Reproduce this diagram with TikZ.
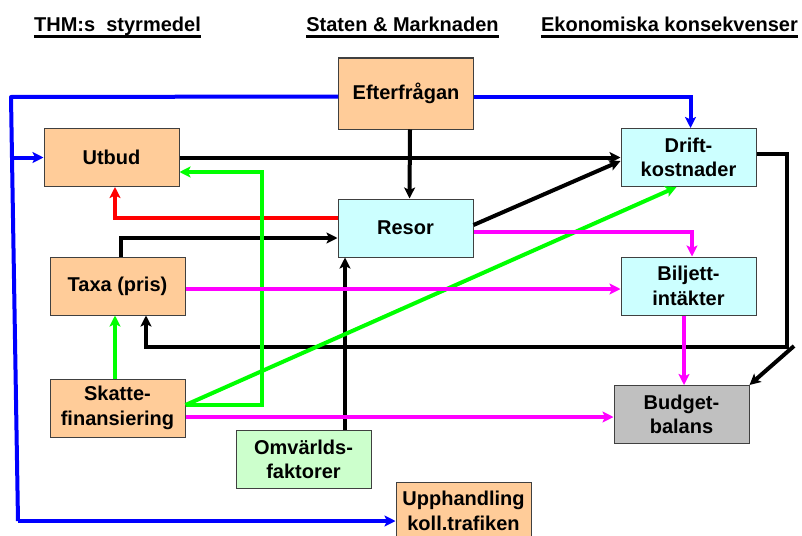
\documentclass[tikz,border=0pt]{standalone}
\usepackage{fontspec}
\setmainfont{Liberation Sans}
\usetikzlibrary{arrows.meta}

\definecolor{peach}{HTML}{FFCC99}
\definecolor{lcyan}{HTML}{CCFFFF}
\definecolor{lgreen}{HTML}{CCFFCC}
\definecolor{lgray}{HTML}{C0C0C0}
\definecolor{wblue}{HTML}{0000FF}
\definecolor{wred}{HTML}{FF0000}
\definecolor{wgreen}{HTML}{00FF00}
\definecolor{wmag}{HTML}{FF00FF}

\begin{document}
\begin{tikzpicture}[x=1pt,y=-1pt,
    font=\fontsize{20}{24.5}\selectfont\bfseries,
    box/.style={draw=black!75,line width=1pt,minimum width=135pt,minimum height=58pt,inner sep=0pt,align=center},
    hdr/.style={inner sep=0pt,anchor=base},
    wire/.style={line width=4pt,-{Stealth[length=11pt,width=11pt,inset=2.5pt]}},
    plain/.style={line width=4pt}]
  \useasboundingbox (0,0) rectangle (802,535);

  % rubriker
  \node[hdr] (hthm) at (117.5,32) {THM:s\ \ styrmedel};
  \node[hdr] (hsta) at (402.5,32) {Staten \& Marknaden};
  \node[hdr] (heko) at (669.5,32) {Ekonomiska konsekvenser};
  \foreach \h in {hthm,hsta,heko}
    \draw[line width=2.5pt] ([yshift=-4.5pt]\h.base west) -- ([yshift=-4.5pt]\h.base east);

  % rutor
  \node[box,fill=peach,minimum height=71pt] (efter) at (406,93.5) {Efterfrågan};
  \node[box,fill=peach]  (utbud)  at (111.5,157.5) {Utbud};
  \node[box,fill=lcyan]  (resor)  at (405.5,228)  {Resor};
  \node[box,fill=peach]  (taxa)   at (117.5,286)  {Taxa (pris)};
  \node[box,fill=lcyan]  (drift)  at (688.5,157.5) {Drift-\\kostnader};
  \node[box,fill=lcyan]  (bilj)   at (688.5,286)  {Biljett-\\intäkter};
  \node[box,fill=peach]  (skatte) at (117.5,408)  {Skatte-\\finansiering};
  \node[box,fill=lgreen] (omv)    at (303.5,459.5) {Omvärlds-\\faktorer};
  \node[box,fill=lgray]  (budget) at (681.5,414.5) {Budget-\\balans};
  \node[box,fill=peach]  (upph)   at (463.5,511)  {Upphandling\\koll.trafiken};

  \coordinate (bltop) at (11,97);
  \coordinate (blbot) at (18,521);
  \coordinate (blj)   at (12,157.5);
  \coordinate (gturn) at (262,172);
  \coordinate (bturn) at (787,347);
  \coordinate (bstart) at (794,346);

  % blått
  \begin{scope}[wblue]
    \draw[plain,line join=round] ([yshift=-3pt]efter.west) -- (bltop) -- (blbot);
    \draw[wire] (blbot) -- (upph.west |- blbot);
    \draw[wire] (blj) -- (utbud.west);
    \draw[wire] ([yshift=-3pt]efter.east) -| ([xshift=2pt]drift.north);
  \end{scope}

  % svart
  \draw[wire] ([xshift=4pt]efter.south) -- ([xshift=4pt]resor.north);
  \draw[wire] (utbud.east) -- (drift.west);
  \draw[wire] ([yshift=3pt]resor.east) -- ([yshift=-3.5pt]drift.west);
  \draw[wire] ([xshift=3.5pt]taxa.north) |- ([yshift=-10pt]resor.west);
  \draw[wire] ([xshift=41.5pt]omv.north) -- ([xshift=41.5pt]omv.north |- resor.south);
  \draw[wire] ([yshift=3.5pt]drift.east) -| (bturn) -| ([xshift=28.5pt]taxa.south);
  \draw[wire] (bstart) -- (budget.north east);

  % rött
  \draw[wire,wred] ([yshift=10pt]resor.west) -| ([xshift=3.5pt]utbud.south);

  % grönt
  \begin{scope}[wgreen]
    \draw[wire] ([yshift=3pt]skatte.east) -| (gturn) -- (utbud.east |- gturn);
    \draw[wire] ([yshift=3pt]skatte.east) -- ([xshift=-12pt]drift.south);
    \draw[wire] ([xshift=-2.5pt]skatte.north) -- ([xshift=-2.5pt]taxa.south);
  \end{scope}

  % magenta
  \begin{scope}[wmag]
    \draw[wire] ([yshift=-3pt]taxa.east) -- ([yshift=-3pt]bilj.west);
    \draw[wire] ([yshift=-4pt]resor.east) -| ([xshift=3.5pt]bilj.north);
    \draw[wire] ([xshift=-4.5pt]bilj.south) -- ([xshift=-4.5pt]bilj.south |- budget.north);
    \draw[wire] ([yshift=-9pt]skatte.east) -- ([yshift=-2.5pt]budget.west);
  \end{scope}
\end{tikzpicture}
\end{document}
